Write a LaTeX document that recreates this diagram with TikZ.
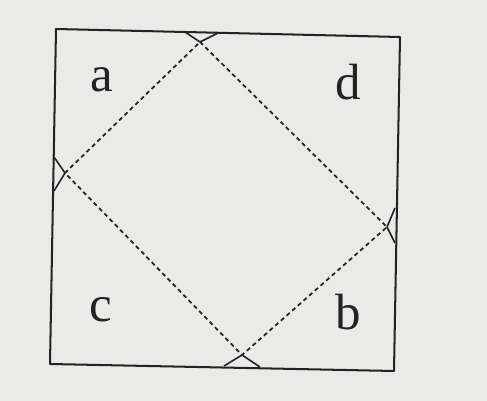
\documentclass[tikz,border=0pt]{standalone}
\usepackage{tikz}
\usepackage{fontspec}
\setmainfont{Liberation Serif}
\definecolor{paper}{RGB}{234,234,232}
\definecolor{ink}{RGB}{35,35,35}
\begin{document}
\begin{tikzpicture}[x=0.02cm, y=-0.02cm, line join=round,
    edge/.style={ink, line width=1.15pt},
    fold/.style={ink, line width=1pt, dash pattern=on 2.4pt off 1.9pt},
    anglemark/.style={ink, line width=0.9pt},
    lbl/.style={ink, font=\fontsize{29}{33}\selectfont}]
  \fill[paper] (0,0) rectangle (487,401);
  \useasboundingbox (0,0) rectangle (487,401);
  % corners of the sheet
  \coordinate (tl) at (56,29);  \coordinate (tr) at (400,37);
  \coordinate (br) at (394,371); \coordinate (bl) at (50,364);
  \draw[edge] (tl) -- (tr) -- (br) -- (bl) -- cycle;
  % fold points and dashed folds
  \coordinate (pt) at (200,42); \coordinate (pl) at (65,173);
  \coordinate (pb) at (242,355); \coordinate (pr) at (387,227);
  \draw[fold] (pt) -- (pr) -- (pb) -- (pl) -- cycle;
  % angle marks at the fold points
  \foreach \p/\u/\v in {pt/{185,32}/{218,33}, pl/{54,157}/{54,191},
                        pb/{224,366}/{260,367}, pr/{395,208}/{395,243}}
    \draw[anglemark] (\u) -- (\p) -- (\v);
  \foreach \n/\q in {a/{102,80}, d/{348,82}, c/{101,310}, b/{348,312}}
    \node[lbl] (\n) at (\q) {\n};
\end{tikzpicture}
\end{document}
